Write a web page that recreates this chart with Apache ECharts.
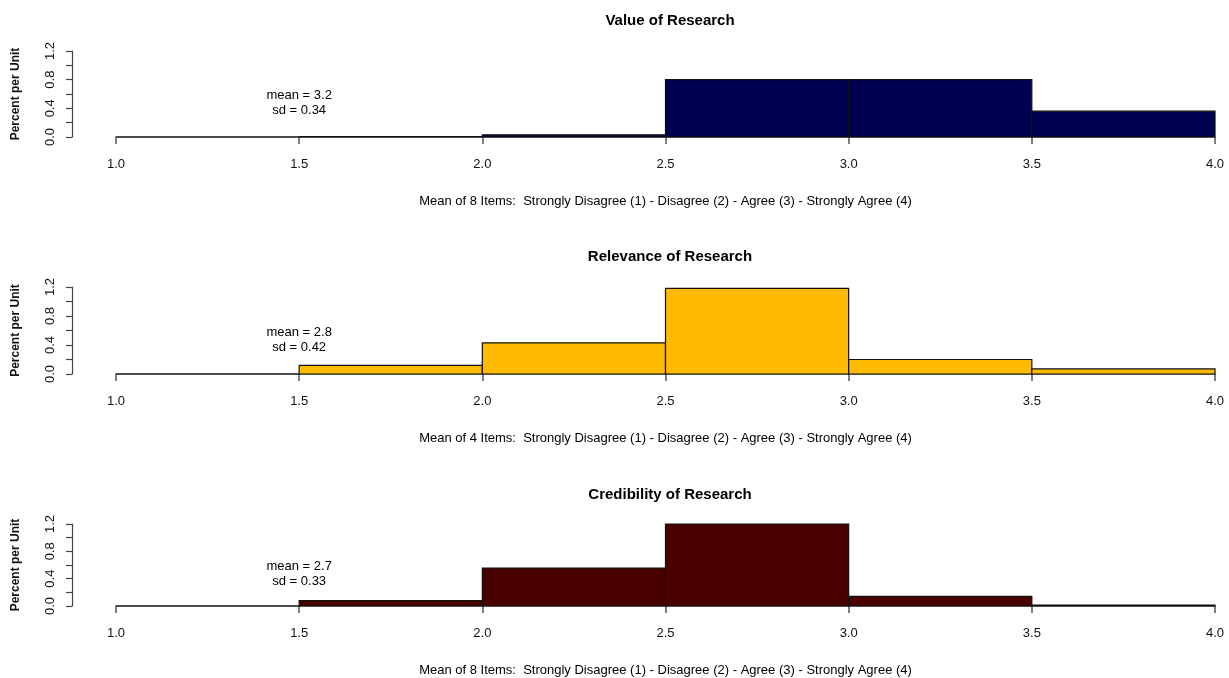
<!DOCTYPE html>
<html><head><meta charset="utf-8">
<script src="https://cdn.jsdelivr.net/npm/echarts@6/dist/echarts.min.js"></script>
<style>html,body{margin:0;padding:0;background:#fff}#c{width:1229px;height:678px}</style>
</head><body><div id="c"></div>
<script>
const binEdges = [1.0, 1.5, 2.0, 2.5, 3.0, 3.5, 4.0];
const xTicks = [1.0, 1.5, 2.0, 2.5, 3.0, 3.5, 4.0];
const yTickLabels = [0.0, 0.4, 0.8, 1.2];
const panelTitles = ['Value of Research', 'Relevance of Research', 'Credibility of Research'];
const xAxisTitles = [
  'Mean of 8 Items:  Strongly Disagree (1) - Disagree (2) - Agree (3) - Strongly Agree (4)',
  'Mean of 4 Items:  Strongly Disagree (1) - Disagree (2) - Agree (3) - Strongly Agree (4)',
  'Mean of 8 Items:  Strongly Disagree (1) - Disagree (2) - Agree (3) - Strongly Agree (4)'
];
const valueDensity = [0.0, 0.005, 0.03, 0.80, 0.80, 0.36];
const relevanceDensity = [0.0, 0.12, 0.43, 1.18, 0.20, 0.07];
const credibilityDensity = [0.0, 0.08, 0.555, 1.20, 0.14, 0.015];
const means = ['3.2', '2.8', '2.7'];
const sds = ['0.34', '0.42', '0.33'];
const statPos = [1.5, 0.47];

const densities = [valueDensity, relevanceDensity, credibilityDensity];
const colors = ['#000050', '#fdba00', '#4b0000'];
const gridTops = [51, 287, 524];
const gridHeights = [86, 87, 86];
const titleTops = [8, 244, 482];
const FONT = 'Liberation Sans, Arial, Helvetica, sans-serif';

const grids = [], xAxes = [], yAxes = [], series = [], titles = [];
for (let i = 0; i < 3; i++) {
  grids.push({left: 116, right: 14, top: gridTops[i], height: gridHeights[i], containLabel: false});
  titles.push({text: panelTitles[i], left: 665, textAlign: 'center', top: titleTops[i],
    textStyle: {fontFamily: FONT, fontSize: 15, fontWeight: 'bold', color: '#000'}});
  xAxes.push({type: 'value', gridIndex: i, min: 1, max: 4, interval: 0.5, offset: 4,
    name: xAxisTitles[i], nameLocation: 'middle', nameGap: 54,
    nameTextStyle: {fontFamily: FONT, fontSize: 13, color: '#000'},
    axisLine: {lineStyle: {color: '#666', width: 1.5}},
    axisTick: {length: 7, lineStyle: {color: '#555', width: 1.5}},
    axisLabel: {fontFamily: FONT, fontSize: 13, color: '#111', margin: 17,
      formatter: v => xTicks.some(t => Math.abs(t - v) < 1e-9) ? v.toFixed(1) : ''},
    splitLine: {show: false}});
  yAxes.push({type: 'value', gridIndex: i, min: 0, max: 1.2, interval: 0.2, offset: 44,
    name: 'Percent per Unit', nameLocation: 'middle', nameGap: 50,
    nameTextStyle: {fontFamily: FONT, fontSize: 12, fontWeight: 'bold', color: '#111'},
    axisLine: {show: true, lineStyle: {color: '#444', width: 1.2}},
    axisTick: {show: true, length: 6, lineStyle: {color: '#444', width: 1.2}},
    axisLabel: {fontFamily: FONT, fontSize: 13, color: '#111', rotate: 90, margin: 15,
      formatter: v => yTickLabels.some(t => Math.abs(t - v) < 1e-9) ? v.toFixed(1) : ''},
    splitLine: {show: false}});
  const data = densities[i].map((d, k) => [binEdges[k], binEdges[k + 1], d]);
  const col = colors[i];
  series.push({type: 'custom', xAxisIndex: i, yAxisIndex: i, silent: true,
    encode: {x: [0, 1], y: 2},
    renderItem: (params, api) => {
      const p0 = api.coord([api.value(0), api.value(2)]);
      const p1 = api.coord([api.value(1), 0]);
      return {type: 'rect', shape: {x: p0[0], y: p0[1], width: p1[0] - p0[0], height: p1[1] - p0[1]},
        style: {fill: col, stroke: '#111', lineWidth: 1.2}};
    },
    data: data});
  const txt = 'mean = ' + means[i] + '\nsd = ' + sds[i];
  series.push({type: 'custom', xAxisIndex: i, yAxisIndex: i, silent: true,
    renderItem: (params, api) => {
      const p = api.coord([api.value(0), api.value(1)]);
      return {type: 'text', x: p[0], y: p[1],
        style: {text: txt, fill: '#000', font: '13px ' + FONT, align: 'center', verticalAlign: 'middle', lineHeight: 15}};
    },
    data: [statPos]});
}

const chart = echarts.init(document.getElementById('c'), null, {renderer: 'canvas'});
chart.setOption({animation: false, backgroundColor: '#fff', title: titles, grid: grids,
  xAxis: xAxes, yAxis: yAxes, series: series});
</script></body></html>
